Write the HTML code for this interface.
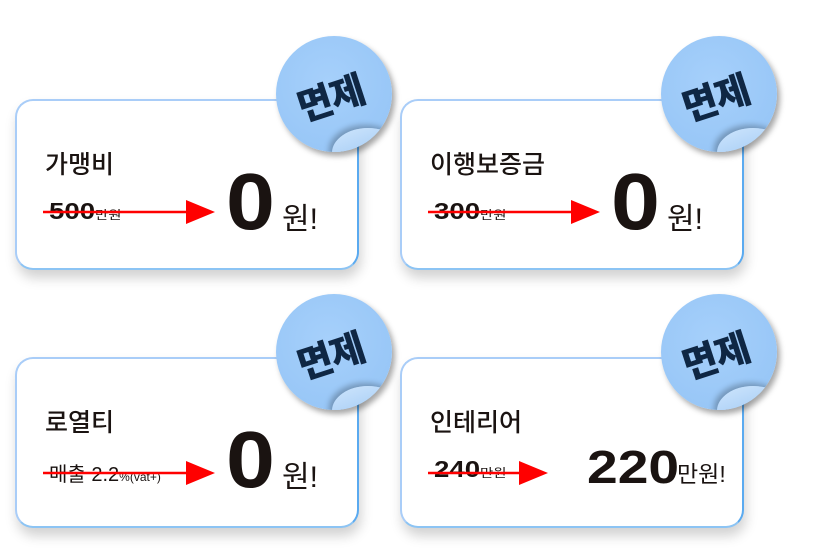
<!DOCTYPE html>
<html><head><meta charset="utf-8"><style>
body{margin:0;width:816px;height:555px;background:#fff;position:relative;overflow:hidden;font-family:"Liberation Sans","Noto Sans CJK KR",sans-serif;color:#1a1311}
.card{position:absolute;width:340px;height:167px;border-radius:18px;border:2px solid #a9cdf8;border-right-color:#5aaaf0;border-bottom-color:#8cc4f4;background:#fff;box-shadow:2px 8px 12px rgba(0,0,0,0.18)}
.t{position:absolute;font-size:25px;font-weight:500}
.old{position:absolute;font-size:23px;font-weight:700;white-space:nowrap;transform:scaleX(1.2);transform-origin:0 0}
.old small{font-size:12px;font-weight:400}
.big{position:absolute;font-size:80px;font-weight:700;line-height:1;transform:scaleX(1.1);transform-origin:0 0}
.won{position:absolute;font-size:30px;font-weight:400}
.badge{position:absolute;width:116px;height:116px;border-radius:50%;background:radial-gradient(circle at 45% 40%,#a6d0fb,#93c3f5);box-shadow:3px 4px 6px rgba(0,0,0,0.35);overflow:hidden}
.badge span{position:absolute;left:20px;top:32px;font-size:38px;font-weight:900;color:#0f2744;transform:rotate(-18deg);letter-spacing:-1px}
.badge i{position:absolute;left:56px;top:92px;width:72px;height:50px;border-radius:50% 50% 0 0;background:linear-gradient(160deg,#cfe6fd,#86b9ef);box-shadow:-3px -3px 6px rgba(0,0,0,0.25)}
svg{position:absolute;left:0;top:0}
</style></head><body>
<div class="card" style="left:15px;top:99px"></div>
<div class="card" style="left:400px;top:99px"></div>
<div class="card" style="left:15px;top:357px"></div>
<div class="card" style="left:400px;top:357px"></div>

<div class="t" style="left:45px;top:145px">가맹비</div>
<div class="old" style="left:49px;top:198px">500<small>만원</small></div>
<div class="big" style="left:226px;top:162px">0</div>
<div class="won" style="left:282px;top:194px">원!</div>

<div class="t" style="left:430px;top:145px">이행보증금</div>
<div class="old" style="left:434px;top:198px">300<small>만원</small></div>
<div class="big" style="left:611px;top:162px">0</div>
<div class="won" style="left:667px;top:194px">원!</div>

<div class="t" style="left:45px;top:403px">로열티</div>
<div class="old" style="left:49px;top:458px;font-weight:400;font-size:20px;transform:none">매출 2.2<small>%(vat+)</small></div>
<div class="big" style="left:226px;top:420px">0</div>
<div class="won" style="left:282px;top:452px">원!</div>

<div class="t" style="left:430px;top:403px">인테리어</div>
<div class="old" style="left:434px;top:456px">240<small>만원</small></div>
<div class="big" style="left:587px;top:444px;font-size:46px;transform:scaleX(1.2)">220</div>
<div class="won" style="left:677px;top:455px;font-size:23px">만원!</div>

<svg width="816" height="555">
<g fill="#f00" stroke="#f00">
<line x1="43" y1="212" x2="195" y2="212" stroke-width="2.5"/><polygon points="186,200 215,212 186,224" stroke="none"/>
<line x1="428" y1="212" x2="580" y2="212" stroke-width="2.5"/><polygon points="571,200 600,212 571,224" stroke="none"/>
<line x1="43" y1="473" x2="195" y2="473" stroke-width="2.5"/><polygon points="186,461 215,473 186,485" stroke="none"/>
<line x1="428" y1="473" x2="528" y2="473" stroke-width="2.5"/><polygon points="519,461 548,473 519,485" stroke="none"/>
</g></svg>

<div class="badge" style="left:276px;top:36px"><span>면제</span><i></i></div>
<div class="badge" style="left:661px;top:36px"><span>면제</span><i></i></div>
<div class="badge" style="left:276px;top:294px"><span>면제</span><i></i></div>
<div class="badge" style="left:661px;top:294px"><span>면제</span><i></i></div>
</body></html>
